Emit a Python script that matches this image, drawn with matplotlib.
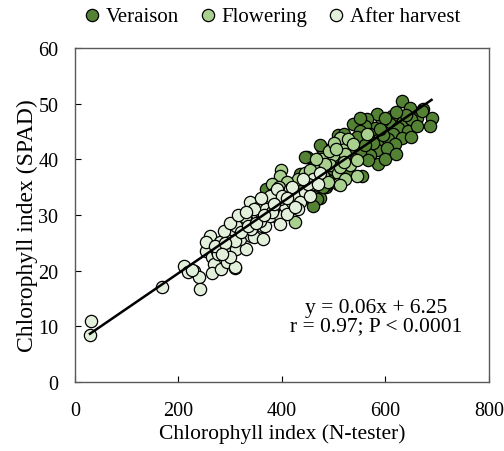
import matplotlib.pyplot as plt
import numpy as np

plt.rcParams['font.family'] = ['Liberation Serif', 'DejaVu Serif']

# Chlorophyll index: N-tester (x) vs SPAD (y), per sampling date
veraison_x = [631, 647, 673, 689, 686, 660, 634, 612, 609, 625, 644, 593, 583, 580,
              564, 561, 538, 599, 615, 631, 570, 551, 586, 605, 618, 567, 583, 602,
              554, 570, 586, 538, 535, 551, 480, 477, 525, 567, 554, 525, 499, 486,
              448, 477, 509, 461, 435, 473, 460, 422, 486, 499, 564, 596, 444, 473,
              435, 454, 467, 377, 370, 460, 512, 480, 650, 670,
              520, 545, 590, 575, 600, 620, 540, 560, 530, 490, 510, 500, 650, 660,
              640, 620, 600, 550, 450, 470, 440, 420, 400, 390, 430]
veraison_y = [50.5, 49.3, 49.0, 47.5, 46.0, 47.5, 46.9, 47.8, 46.3, 45.7, 45.1, 46.9, 48.1, 45.7,
              47.2, 46.0, 46.3, 44.8, 44.5, 43.9, 44.5, 45.1, 43.4, 43.6, 42.7, 41.9, 41.6, 42.1,
              43.0, 40.7, 39.2, 43.4, 41.6, 41.3, 41.9, 38.9, 39.2, 39.8, 37.0, 37.6, 36.2, 35.0,
              40.4, 42.1, 44.3, 37.4, 37.0, 33.1, 33.5, 31.7, 35.3, 38.3, 44.3, 44.3, 40.4, 42.5,
              37.4, 33.5, 32.9, 33.8, 34.7, 31.7, 35.6, 35.0, 47.2, 48.7,
              44.5, 44.0, 45.5, 43.0, 40.0, 41.0, 40.0, 42.5, 42.0, 39.5, 40.5, 42.0, 44.0, 46.0,
              48.0, 48.5, 47.5, 47.5, 36.0, 39.5, 34.5, 33.5, 31.5, 33.0, 35.0]

flowering_x = [399, 396, 380, 383, 425, 454, 477, 499, 518, 493, 509, 544, 531, 512,
               528, 538, 522, 544, 512, 483, 509, 430, 445, 460, 470, 490, 500, 480,
               465, 420, 410, 440, 455, 520, 505, 488, 395, 522, 512, 564]
flowering_y = [38.0, 37.0, 35.6, 33.8, 28.7, 35.3, 40.1, 40.7, 42.5, 38.9, 37.6, 37.0, 38.9, 43.9,
               43.6, 42.7, 41.0, 39.8, 38.6, 39.2, 35.6, 36.5, 37.5, 38.5, 36.0, 41.5, 43.0, 37.0,
               40.0, 34.0, 36.0, 33.0, 38.0, 39.5, 41.8, 36.0, 35.0, 36.5, 35.3, 44.5]

harvest_x = [30, 29, 169, 211, 218, 230, 240, 241, 254, 226, 261, 264, 269, 264,
             282, 293, 309, 280, 296, 296, 274, 312, 330, 319, 325, 341, 328, 338,
             351, 361, 303, 287, 309, 254, 396, 390, 415, 345, 367, 328, 312, 341,
             357, 377, 396, 383, 406, 419, 428, 444, 435, 396, 415, 364, 396, 409,
             377, 390, 460, 473, 309, 276,
             270, 290, 300, 320, 335, 350, 355, 370, 380, 400, 420, 430, 450, 440,
             345, 285, 300, 315, 360, 470, 455, 330, 365, 385, 410, 425]
harvest_y = [11.0, 8.5, 17.0, 20.9, 19.8, 19.9, 18.9, 16.7, 23.6, 20.2, 26.2, 22.4, 21.2, 19.6,
             20.3, 21.5, 20.4, 25.1, 23.9, 26.3, 23.6, 23.9, 23.9, 25.7, 27.2, 26.3, 29.3, 32.3,
             30.2, 28.1, 27.5, 27.2, 25.4, 25.1, 31.7, 29.6, 32.3, 26.0, 28.1, 29.6, 28.1, 27.5,
             29.0, 29.9, 29.9, 31.1, 31.7, 32.3, 33.8, 34.1, 32.3, 32.9, 34.7, 25.7, 28.4, 30.2,
             33.5, 34.7, 36.5, 37.6, 20.6, 23.0,
             24.5, 25.0, 22.5, 27.0, 28.0, 28.5, 31.5, 31.0, 30.5, 33.5, 35.0, 31.0, 35.5, 36.5,
             31.0, 23.0, 28.5, 30.0, 33.0, 35.5, 33.5, 30.5, 30.0, 32.0, 33.0, 31.5]

fig = plt.figure(figsize=(5.04, 4.52), dpi=100)
ax = fig.add_axes([0.1488, 0.1527, 0.8214, 0.7389])

kw = dict(s=78, edgecolors='black', linewidths=0.9)
ax.scatter(veraison_x, veraison_y, color='#548235', label='Veraison', zorder=2, **kw)
ax.scatter(flowering_x, flowering_y, color='#A9D08E', label='Flowering', zorder=3, **kw)
ax.scatter(harvest_x, harvest_y, color='#E2EFDA', label='After harvest', zorder=4, **kw)

# linear fit over all points
all_x = np.array(veraison_x + flowering_x + harvest_x, dtype=float)
all_y = np.array(veraison_y + flowering_y + harvest_y, dtype=float)
b, a = np.polyfit(all_x, all_y, 1)
xs = np.array([all_x.min(), all_x.max()])
ax.plot(xs, b * xs + a, color='black', lw=1.8, zorder=5)

ax.text(0.727, 0.196, 'y = 0.06x + 6.25\nr = 0.97; P < 0.0001', transform=ax.transAxes,
        ha='center', va='center', fontsize=15.5, linespacing=1.0)

ax.set_xlim(0, 800)
ax.set_ylim(0, 60)
ax.set_xticks([0, 200, 400, 600, 800])
ax.set_yticks(range(0, 61, 10))
ax.tick_params(direction='in', length=4.5, labelsize=14.5, colors='black')
ax.tick_params(axis='x', pad=14)
ax.tick_params(axis='y', pad=12)
for sp in ax.spines.values():
    sp.set_color('#595959')
    sp.set_linewidth(1)

ax.set_xlabel('Chlorophyll index (N-tester)', fontsize=15.5, labelpad=2)
ax.set_ylabel('Chlorophyll index (SPAD)', fontsize=17)
ax.yaxis.set_label_coords(-0.09, 0.47)

ax.legend(loc='center', bbox_to_anchor=(0.478, 1.096), ncol=3, frameon=False,
          fontsize=15, handlelength=0.6, handletextpad=0.35, columnspacing=1.1,
          borderaxespad=0, borderpad=0)

fig.savefig('out.png', dpi=100)
